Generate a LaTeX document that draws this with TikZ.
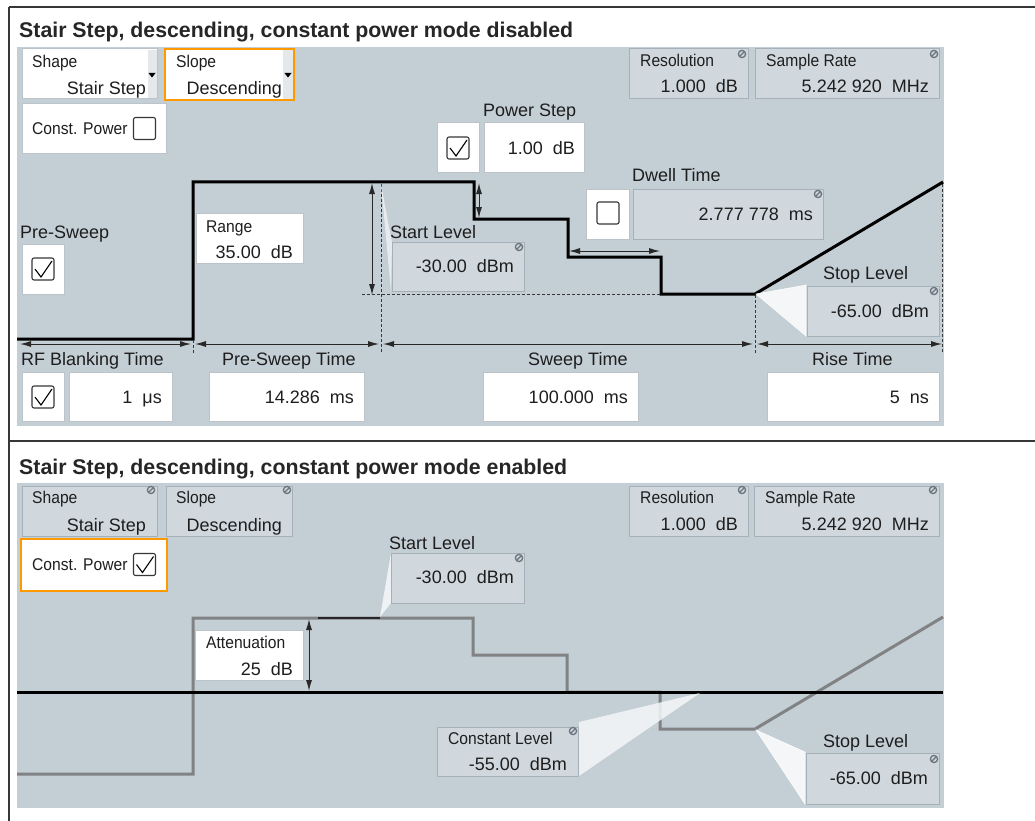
\documentclass[tikz,border=0pt]{standalone}
\usepackage{fontspec}
\setmainfont{Liberation Sans}
\newfontfamily\condf[FakeStretch=0.92]{Liberation Sans}
\usetikzlibrary{arrows.meta}
\definecolor{panel}{RGB}{196,206,213}
\definecolor{dfill}{RGB}{208,216,222}
\definecolor{dline}{RGB}{166,176,184}
\definecolor{wline}{RGB}{188,196,202}
\definecolor{orng}{RGB}{255,153,0}
\definecolor{wgray}{RGB}{128,130,132}
\definecolor{strip}{RGB}{228,232,235}
\definecolor{callf}{RGB}{244,246,248}
\definecolor{txt}{RGB}{30,30,30}
\definecolor{icg}{RGB}{105,116,125}
\definecolor{frame}{RGB}{55,55,55}
\tikzset{
  ttl/.style={inner sep=0, font=\bfseries\fontsize{21.3}{24}\selectfont, text={rgb,255:red,38;green,38;blue,38}},
  lab/.style={inner sep=0, font=\fontsize{18}{20}\selectfont, text=txt},
  val/.style={inner sep=0, font=\fontsize{18}{20}\selectfont, text=txt, anchor=base east},
  clab/.style={inner sep=0, font=\condf\fontsize{17}{20}\selectfont, text=txt, anchor=base west},
  wbox/.style={fill=white, draw=wline, line width=1pt},
  dbox/.style={fill=dfill, draw=dline, line width=1pt},
  obox/.style={fill=white, draw=orng, line width=2.2pt},
  ckb/.style={fill=white, draw=frame, line width=1.1pt, rounded corners=2pt},
  ckm/.style={draw=black, line width=1.1pt, line join=miter},
  icn/.style={draw=icg, line width=1.3pt},
  wave/.style={draw=black, line width=3pt, line join=miter},
  gwave/.style={draw=wgray, line width=3pt, line join=miter},
  dsh/.style={draw=frame, line width=0.9pt, dash pattern=on 3pt off 2pt},
  dimarr/.style={draw={rgb,255:red,40;green,40;blue,40}, line width=1pt, {Latex[length=11pt,width=6pt]}-{Latex[length=11pt,width=6pt]}},
  callout/.style={fill=callf, draw=white, line width=0.5pt},
  tline/.style={draw=frame, line width=1.5pt}
}
\newcommand{\ckbox}[3]{%
  \filldraw[ckb] (#1,#2) rectangle ++(22,22);
  \ifnum#3=1 \draw[ckm] (#1,#2) ++(3,11) -- ++(6,8) -- ++(11,-16);\fi}
\newcommand{\noedit}[2]{%
  \draw[icn] (#1,#2) circle (3.6);
  \draw[icn] (#1,#2) ++(-2.5,2.5) -- ++(5,-5);}
\newcommand{\ddtri}[2]{%
  \fill[black] (#1,#2) -- ++(7,0) -- ++(-3.5,4.5) -- cycle;}
\begin{document}
\begin{tikzpicture}[x=1pt,y=-1pt]
\path[use as bounding box, fill=white] (0,0) rectangle (1035,821);
% table frame
\draw[tline] (9,7) -- (1035,7);
\draw[tline] (9,441) -- (1035,441);
\draw[tline] (9,7) -- (9,821);
% titles
\node[ttl, anchor=base west] (t1) at (19,38) {Stair Step, descending, constant power mode disabled};
\node[ttl, anchor=base west] (t2) at (19,474) {Stair Step, descending, constant power mode enabled};
% panels
\fill[panel] (17,47) rectangle (944,426);
\fill[panel] (17,483) rectangle (944,808);

% ================= TOP PANEL =================
% waveform
\draw[wave] (17,339) -- (193,339) -- (193,182) -- (474,182) -- (474,219) -- (568,219) -- (568,257) -- (661,257) -- (661,294) -- (755,294) -- (943,182);
% dashed guides
\draw[dsh] (193,340) -- (193,353);
\draw[dsh] (381,184) -- (381,353);
\draw[dsh] (755,295) -- (755,353);
\draw[dsh] (942,184) -- (942,353);
\draw[dsh] (362,294) -- (660,294);
% dimension arrows
\coordinate (rgTop) at (372,183);
\coordinate (rgBot) at (372,295);
\draw[dimarr] (rgTop) -- (rgBot);
\coordinate (psTop) at (479,183);
\coordinate (psBot) at (479,218);
\draw[dimarr] (psTop) -- (psBot);
\coordinate (dwL) at (569,251);
\coordinate (dwR) at (660,251);
\draw[dimarr] (dwL) -- (dwR);
% time axis
\coordinate (a0) at (19,344);
\coordinate (a1) at (193,344);
\coordinate (a2) at (381,344);
\coordinate (a3) at (755,344);
\coordinate (a4) at (943,344);
\draw[dimarr] ([xshift=1]a0) -- ([xshift=-2]a1);
\draw[dimarr] ([xshift=2]a1) -- ([xshift=-2]a2);
\draw[dimarr] ([xshift=2]a2) -- ([xshift=-2]a3);
\draw[dimarr] ([xshift=2]a3) -- ([xshift=-1]a4);

% Shape
\filldraw[wbox] (22,49) rectangle (157,99);
\fill[strip] (148,50) rectangle (156.5,98.5);
\ddtri{148.5}{73}
\node[clab] (shapeL) at (32,68) {Shape};
\node[val] (shapeV) at (146,95) {Stair Step};
% Slope
\filldraw[obox] (165,49) rectangle (294,100);
\fill[strip] (283,50.2) rectangle (292.8,98.8);
\ddtri{284.5}{73}
\node[clab] (slopeL) at (176,68) {Slope};
\node[val] (slopeV) at (282,95) {Descending};
% Const power
\filldraw[wbox] (22,104) rectangle (166,154);
\node[clab] (cpL) at (32,135) {Const. Power};
\ckbox{133.5}{117.5}{0}
% Resolution
\filldraw[dbox] (629,49) rectangle (748,99);
\node[clab] (resL) at (640,67) {Resolution};
\node[val] (resV) at (738,93) {1.000\ \ dB};
\noedit{742}{54}
% Sample rate
\filldraw[dbox] (755,49) rectangle (939,99);
\node[clab] (srL) at (766,67) {Sample Rate};
\node[val] (srV) at (929,93) {5.242 920\ \ MHz};
\noedit{934}{54}
% Power step
\node[lab, anchor=base west] (psL) at (483,117) {Power Step};
\filldraw[wbox] (437,123) rectangle (479,173);
\ckbox{447}{137}{1}
\filldraw[wbox] (484,123) rectangle (584,173);
\node[val] (psV) at (575,155) {1.00\ \ dB};
% Dwell time
\node[lab, anchor=base west] (dtL) at (632,182) {Dwell Time};
\filldraw[wbox] (586,189) rectangle (629,239);
\ckbox{597}{202}{0}
\filldraw[dbox] (633,189) rectangle (823,239);
\node[val] (dtV) at (813,220) {2.777 778\ \ ms};
\noedit{818}{194}
% Pre-sweep
\node[lab, anchor=base west] (pswL) at (20,238) {Pre-Sweep};
\filldraw[wbox] (22,244) rectangle (64,294);
\ckbox{32}{258}{1}
% Range
\filldraw[wbox] (196,213) rectangle (303,263);
\node[clab] (rgL) at (206,232) {Range};
\node[val] (rgV) at (293,258) {35.00\ \ dB};
% Start level
\node[lab, anchor=base west] (slL) at (390,238) {Start Level};
\fill[white, opacity=0.6] (381,184) -- (392,243) -- (391,291) -- cycle;
\filldraw[dbox] (392,242) rectangle (524,291);
\node[val] (slV) at (514,272) {-30.00\ \ dBm};
\noedit{519}{247}
% Stop level
\node[lab, anchor=base west] (stL) at (823,279) {Stop Level};
\filldraw[callout] (756,294) -- (806,285) -- (806,336) -- cycle;
\filldraw[dbox] (807,286) rectangle (939,336);
\node[val] (stV) at (929,317) {-65.00\ \ dBm};
\noedit{934}{291}
% time labels and boxes
\node[lab, anchor=base west] (rfL) at (21,365) {RF Blanking Time};
\node[lab, anchor=base west] (pstL) at (222,365) {Pre-Sweep Time};
\node[lab, anchor=base west] (swL) at (528,365) {Sweep Time};
\node[lab, anchor=base west] (rtL) at (812,365) {Rise Time};
\filldraw[wbox] (22,372) rectangle (64,421);
\ckbox{32}{386}{1}
\filldraw[wbox] (69,372) rectangle (172,421);
\node[val] (rfV) at (162,403) {1\ \ μs};
\filldraw[wbox] (209,372) rectangle (364,421);
\node[val] (pstV) at (354,403) {14.286\ \ ms};
\filldraw[wbox] (483,372) rectangle (638,421);
\node[val] (swV) at (628,403) {100.000\ \ ms};
\filldraw[wbox] (767,372) rectangle (939,421);
\node[val] (rtV) at (929,403) {5\ \ ns};

% ================= BOTTOM PANEL =================
\draw[gwave] (17,774) -- (193,774) -- (193,618) -- (473,618) -- (473,655) -- (567,655) -- (567,692) -- (660,692) -- (660,729) -- (755,729) -- (943,617);
\draw[draw=black, line width=3pt] (17,692) -- (943,692);
\draw[draw=black!85, line width=1.8pt] (318,618) -- (380,618);
\coordinate (atTop) at (309,619);
\coordinate (atBot) at (309,691);
\draw[dimarr] (atTop) -- (atBot);
% Shape / Slope disabled
\filldraw[dbox] (22,486) rectangle (157,536);
\node[clab] (shapeL2) at (32,503) {Shape};
\node[val] (shapeV2) at (146,531) {Stair Step};
\noedit{151}{490}
\filldraw[dbox] (166,486) rectangle (292,536);
\node[clab] (slopeL2) at (176,503) {Slope};
\node[val] (slopeV2) at (282,531) {Descending};
\noedit{287}{490}
% Const power enabled
\filldraw[obox] (21,539) rectangle (167,591);
\node[clab] (cpL2) at (32,570) {Const. Power};
\ckbox{133.5}{553.5}{1}
% Resolution / sample rate
\filldraw[dbox] (629,486) rectangle (748,536);
\node[clab] (resL2) at (640,503) {Resolution};
\node[val] (resV2) at (738,530) {1.000\ \ dB};
\noedit{742}{490}
\filldraw[dbox] (754,486) rectangle (939,536);
\node[clab] (srL2) at (765,503) {Sample Rate};
\node[val] (srV2) at (929,530) {5.242 920\ \ MHz};
\noedit{933}{490}
% Start level
\node[lab, anchor=base west] (slL2) at (389,549) {Start Level};
\fill[callf, opacity=0.9] (380,617) -- (391,553) -- (391,603) -- cycle;
\filldraw[dbox] (391,553) rectangle (524,603);
\node[val] (slV2) at (514,583) {-30.00\ \ dBm};
\noedit{519}{558}
% Attenuation
\filldraw[wbox] (195,630) rectangle (303,680);
\node[clab] (atL) at (206,648) {Attenuation};
\node[val] (atV) at (293,675) {25\ \ dB};
% Constant level
\fill[callf, opacity=0.85] (700,693) -- (579,722) -- (579,776) -- cycle;
\filldraw[dbox] (437,727) rectangle (578,776);
\node[clab] (clL) at (448,744) {Constant Level};
\node[val] (clV) at (567,770) {-55.00\ \ dBm};
\noedit{573}{731}
% Stop level
\node[lab, anchor=base west] (stL2) at (823,747) {Stop Level};
\filldraw[callout] (756,730) -- (805,752) -- (805,804) -- cycle;
\filldraw[dbox] (806,753) rectangle (939,804);
\node[val] (stV2) at (928,784) {-65.00\ \ dBm};
\noedit{934}{759}
\end{tikzpicture}
\end{document}
